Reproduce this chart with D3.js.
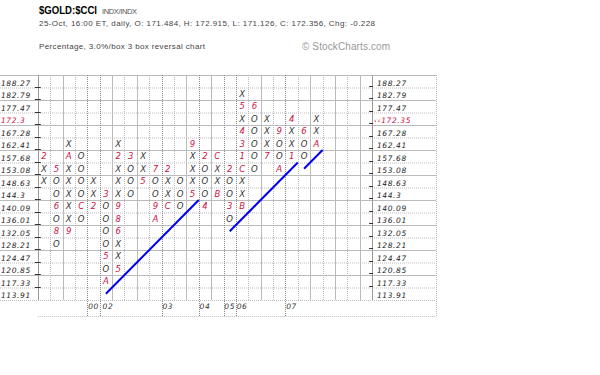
<!DOCTYPE html>
<html><head><meta charset="utf-8">
<script src="https://cdn.jsdelivr.net/npm/d3@7"></script>
<style>body{margin:0;background:#fff}svg{display:block}</style>
</head><body><svg id="c" width="600" height="375"></svg>
<script>
// ---- data ----
const priceLabels = ["188.27","182.79","177.47","172.3","167.28","162.41","157.68","153.08","148.63","144.3","140.09","136.01","132.05","128.21","124.47","120.85","117.33","113.91"];
const lastPrice = "172.35";
const lastRow = "172.3";
// each P&F column: price of the top box, then the boxes downward
const columnTops = ["157.68","153.08","162.41","157.68","148.63","144.3","162.41","157.68","157.68","153.08","153.08","148.63","162.41","157.68","157.68","153.08","182.79","177.47","172.3","167.28","172.3","167.28","172.3"];
const columnBoxes = ["2XX","5OO6O8O","XAXXXXX9","OOOOCO","XX2","3OOOO5OA","X2XXX986XX5","3OOO","XX5","7OO9A","2XXC","OOO","9XXX5","2OOO4","CXXB","2OO3O","X5X431CXXB","6OOOOO","XXX7","9OOA","4XX1","6OO","XXA"];
const yearLabels = ["00","02","03","04","05","06","07"];
const yearColumns = [5,6,11,14,16,17,21];
// trend lines: [column, box row] at start and end (fractional boxes)
const trendStartCol = [6, 16, 22];
const trendStartBox = [17, 12, 7];
const trendEndCol = [13.5, 21.5, 23.5];
const trendEndBox = [9.5, 6.5, 5.5];

const nCols = 27;
const svg = d3.select("#c");
const L = 37.8, R = 372.1, T = 75, B = 300;
const x = d3.scaleLinear().domain([0, nCols]).range([L, R]);
const yBand = d3.scaleBand().domain(priceLabels).range([T, B]);
const yLin = d3.scaleLinear().domain([0, priceLabels.length]).range([T, B]);
const rowH = yBand.bandwidth();
const red = "#cc1144";

// header
const h = svg.append("g").attr("font-family","'Liberation Sans', Arial, sans-serif");
h.append("text").attr("x",39).attr("y",14).attr("font-size",10).attr("font-weight","bold").attr("fill","#000")
  .attr("textLength",58).attr("lengthAdjust","spacingAndGlyphs").text("$GOLD:$CCI");
h.append("text").attr("x",102).attr("y",14).attr("font-size",7.5).attr("fill","#555")
  .attr("textLength",35).text("INDX/INDX");
h.append("text").attr("x",39).attr("y",26).attr("font-size",8).attr("fill","#444")
  .attr("textLength",336).text("25-Oct, 16:00 ET, daily, O: 171.484, H: 172.915, L: 171.126, C: 172.356, Chg: -0.228");
h.append("text").attr("x",39).attr("y",49).attr("font-size",8).attr("fill","#444")
  .attr("textLength",166).text("Percentage, 3.0%/box 3 box reversal chart");
h.append("text").attr("x",302).attr("y",50).attr("font-size",10).attr("fill","#999")
  .attr("textLength",88).text("© StockCharts.com");

// grid
const g = svg.append("g");
priceLabels.forEach((p,i) => {
  if (i === 0) return;
  g.append("line").attr("x1",0).attr("x2",436).attr("y1",yBand(p)+0.5).attr("y2",yBand(p)+0.5)
    .attr("stroke","#bbb").attr("stroke-dasharray", i%2 ? "1,1" : null);
});
g.append("line").attr("x1",0).attr("x2",436).attr("y1",T+0.5).attr("y2",T+0.5).attr("stroke","#bbb");
g.append("line").attr("x1",0).attr("x2",436).attr("y1",B+0.5).attr("y2",B+0.5).attr("stroke","#bbb").attr("stroke-dasharray","1,1");
g.append("line").attr("x1",L).attr("x2",436).attr("y1",316.5).attr("y2",316.5).attr("stroke","#bbb").attr("stroke-dasharray","1,1");
d3.range(1, nCols).forEach(c => {
  const isYear = yearColumns.includes(c+1);
  g.append("line").attr("x1",Math.round(x(c))+0.5).attr("x2",Math.round(x(c))+0.5).attr("y1",T).attr("y2",isYear?316:B)
    .attr("stroke", isYear ? "#888" : "#bbb").attr("stroke-dasharray", (isYear || c%2) ? "1,1" : null);
});
g.append("line").attr("x1",436.5).attr("x2",436.5).attr("y1",T).attr("y2",316).attr("stroke","#bbb").attr("stroke-dasharray","1,1");
// axes
[L, R].forEach(xx => g.append("line").attr("x1",Math.round(xx)+0.5).attr("x2",Math.round(xx)+0.5).attr("y1",T).attr("y2",B).attr("stroke","#999"));
priceLabels.forEach((p,i) => {
  if (i === 0) return;
  const yy = Math.round(yBand(p)) - 0.5;
  g.append("line").attr("x1",L-3).attr("x2",L+3).attr("y1",yy).attr("y2",yy).attr("stroke","#333");
  g.append("line").attr("x1",R-3).attr("x2",R+1).attr("y1",yy-1).attr("y2",yy-1).attr("stroke","#333");
});

// price labels
const lab = svg.append("g").attr("font-family","'DejaVu Sans', sans-serif").attr("font-style","italic").attr("font-size",7.5);
priceLabels.forEach(p => {
  const base = yBand(p) + rowH - 2;
  const isLast = p === lastRow;
  lab.append("text").attr("x",1).attr("y",base).attr("fill", isLast ? red : "#222").attr("letter-spacing",0.6).text(p);
  lab.append("text").attr("x", isLast ? 374 : 377).attr("y",base).attr("fill", isLast ? red : "#222").attr("letter-spacing",0.6)
    .text(isLast ? "‹‹" + lastPrice : p);
});

// year labels
yearLabels.forEach((yl,i) => {
  lab.append("text").attr("x", x(yearColumns[i]-0.5) + (yl === "02" ? 2 : 0)).attr("y",309).attr("text-anchor","middle").attr("fill","#333").attr("letter-spacing",0.6).text(yl);
});

// boxes
const boxes = [];
columnBoxes.forEach((s,ci) => {
  const r0 = priceLabels.indexOf(columnTops[ci]);
  s.split("").forEach((ch,k) => boxes.push({col: ci+1, row: priceLabels[r0+k], ch}));
});
svg.append("g").attr("font-family","'DejaVu Sans', sans-serif").attr("font-style","italic").attr("font-size",8.5)
  .selectAll("text").data(boxes).join("text")
  .attr("x", d => x(d.col-0.5)).attr("y", d => yBand(d.row) + rowH/2 + 3)
  .attr("text-anchor","middle")
  .attr("fill", d => (d.ch === "X" || d.ch === "O") ? "#333" : red)
  .text(d => d.ch);

// trend lines
svg.append("g").selectAll("line").data(trendStartCol.map((c,i)=>i)).join("line")
  .attr("x1", i => x(trendStartCol[i]-0.5)).attr("y1", i => yLin(trendStartBox[i]+0.5))
  .attr("x2", i => x(trendEndCol[i]-0.5)).attr("y2", i => yLin(trendEndBox[i]+0.5))
  .attr("stroke","#0000ee").attr("stroke-width",2);
</script></body></html>
